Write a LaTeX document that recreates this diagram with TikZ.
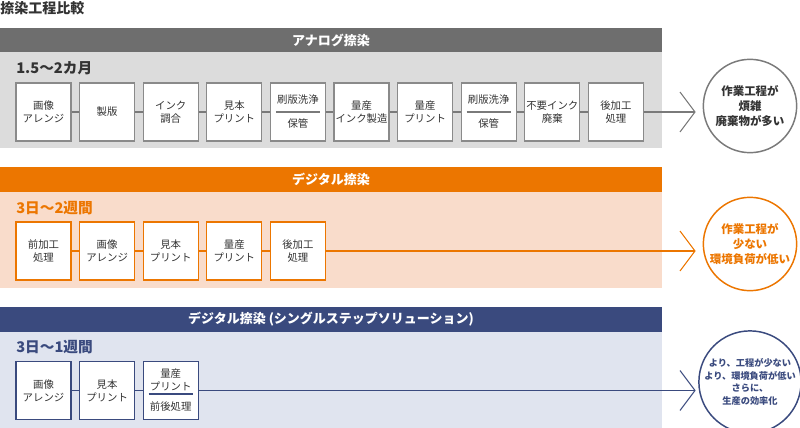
\documentclass[tikz,border=0pt]{standalone}
\usepackage{fontspec}
\setmainfont{Noto Sans CJK JP}
\usetikzlibrary{calc}
\definecolor{hdgray}{HTML}{6E6E6E}
\definecolor{bdgray}{HTML}{DCDCDC}
\definecolor{boxgray}{HTML}{8A8A8A}
\definecolor{lngray}{HTML}{7A7A7A}
\definecolor{orng}{HTML}{EC7600}
\definecolor{peach}{HTML}{F9DCCB}
\definecolor{navy}{HTML}{3A4A7E}
\definecolor{lnavy}{HTML}{E0E4EF}
\definecolor{txt}{HTML}{333333}
\begin{document}
\begin{tikzpicture}[x=0.75pt,y=-0.75pt,
  boxbase/.style={fill=white, line width=0.8pt, minimum width=41.25pt, minimum height=43.5pt,
    inner sep=0pt, align=center, text=txt, font=\fontsize{7.8}{9.75}\selectfont},
  gbox/.style={boxbase, draw=boxgray},
  obox/.style={boxbase, draw=orng},
  nbox/.style={boxbase, draw=navy},
  btext/.style={inner sep=0pt, align=center, text=txt, font=\fontsize{7.8}{9.75}\selectfont},
  gline/.style={draw=lngray, line width=0.8pt},
  oline/.style={draw=orng, line width=0.8pt},
  nline/.style={draw=navy, line width=0.8pt},
  hdtext/.style={text=white, font=\bfseries\fontsize{9.75}{11}\selectfont},
  sectlabel/.style={anchor=west, inner sep=0pt, font=\bfseries\fontsize{11}{12}\selectfont},
  result/.style={circle, fill=white, line width=1.1pt, minimum size=70pt, inner sep=0pt, align=center,
    font=\bfseries\fontsize{8.6}{11.25}\selectfont},
]
\useasboundingbox (0,0) rectangle (800,428);

% title
\node[anchor=west, inner sep=0pt, text=txt, font=\bfseries\fontsize{10.5}{12}\selectfont] (title) at (0,8) {捺染工程比較};

% ===== Section 1: analog =====
\fill[bdgray] (0,52) rectangle (662,148);
\fill[hdgray] (0,28) rectangle (662,52);
\node[hdtext] (ahd) at (331,40) {アナログ捺染};
\node[sectlabel, text=txt] (alab) at (16,68) {1.5〜2カ月};

\node[gbox] (a1) at (43.5,112) {画像\\アレンジ};
\node[gbox] (a2) at (107.1,112) {製版};
\node[gbox] (a3) at (170.7,112) {インク\\調合};
\node[gbox] (a4) at (234.3,112) {見本\\プリント};
\node[gbox] (a5) at (297.9,112) {};
\node[btext] (a5t) at ($(a5.center)+(0,-12)$) {刷版洗浄};
\node[btext] (a5b) at ($(a5.center)+(0,12)$) {保管};
\draw[gline] ($(a5.west)+(6,0)$) -- ($(a5.east)+(-6,0)$);
\node[gbox] (a6) at (361.5,112) {量産\\インク製造};
\node[gbox] (a7) at (425.1,112) {量産\\プリント};
\node[gbox] (a8) at (488.7,112) {};
\node[btext] (a8t) at ($(a8.center)+(0,-12)$) {刷版洗浄};
\node[btext] (a8b) at ($(a8.center)+(0,12)$) {保管};
\draw[gline] ($(a8.west)+(6,0)$) -- ($(a8.east)+(-6,0)$);
\node[gbox] (a9) at (552.3,112) {不要インク\\廃棄};
\node[gbox] (a10) at (615.9,112) {後加工\\処理};
\foreach \i/\j in {a1/a2,a2/a3,a3/a4,a4/a5,a5/a6,a6/a7,a7/a8,a8/a9,a9/a10}
  \draw[gline] (\i) -- (\j);
\coordinate (atip) at (695,112);
\draw[gline] (a10) -- (atip);
\draw[gline] ($(atip)+(-15,-20)$) -- (atip) -- ($(atip)+(-15,20)$);
\node[result, draw=lngray, text=txt] (ares) at (750,106) {作業工程が\\煩雑\\廃棄物が多い};

% ===== Section 2: digital =====
\fill[peach] (0,192) rectangle (662,288);
\fill[orng] (0,167) rectangle (662,192);
\node[hdtext] (bhd) at (331,179.5) {デジタル捺染};
\node[sectlabel, text=orng] (blab) at (16,208) {3日〜2週間};

\node[obox] (b1) at (43.5,251) {前加工\\処理};
\node[obox] (b2) at (107.1,251) {画像\\アレンジ};
\node[obox] (b3) at (170.7,251) {見本\\プリント};
\node[obox] (b4) at (234.3,251) {量産\\プリント};
\node[obox] (b5) at (297.9,251) {後加工\\処理};
\foreach \i/\j in {b1/b2,b2/b3,b3/b4,b4/b5}
  \draw[oline] (\i) -- (\j);
\coordinate (btip) at (695,251);
\draw[oline] (b5) -- (btip);
\draw[oline] ($(btip)+(-15,-20)$) -- (btip) -- ($(btip)+(-15,20)$);
\node[result, draw=orng, text=orng] (bres) at (750,244) {作業工程が\\少ない\\環境負荷が低い};

% ===== Section 3: single step =====
\fill[lnavy] (0,332) rectangle (662,428);
\fill[navy] (0,307) rectangle (662,332);
\node[hdtext] (chd) at (331,319.5) {デジタル捺染 (シングルステップソリューション)};
\node[sectlabel, text=navy] (clab) at (16,347) {3日〜1週間};

\node[nbox] (c1) at (43.5,390.5) {画像\\アレンジ};
\node[nbox] (c2) at (107.1,390.5) {見本\\プリント};
\node[nbox] (c3) at (170.7,390.5) {};
\node[btext] (c3t) at ($(c3.center)+(0,-11)$) {量産\\プリント};
\node[btext] (c3b) at ($(c3.center)+(0,16.5)$) {前後処理};
\draw[nline] ($(c3.west)+(6,3.5)$) -- ($(c3.east)+(-6,3.5)$);
\foreach \i/\j in {c1/c2,c2/c3}
  \draw[nline] (\i) -- (\j);
\coordinate (ctip) at (695,390.5);
\draw[nline] (c3) -- (ctip);
\draw[nline] ($(ctip)+(-15,-20)$) -- (ctip) -- ($(ctip)+(-15,20)$);
\node[result, draw=navy, text=navy, font=\bfseries\fontsize{6.9}{9.4}\selectfont] (cres) at (750,382) {より、工程が少ない\\より、環境負荷が低い\\さらに、\\生産の効率化};
\end{tikzpicture}
\end{document}
